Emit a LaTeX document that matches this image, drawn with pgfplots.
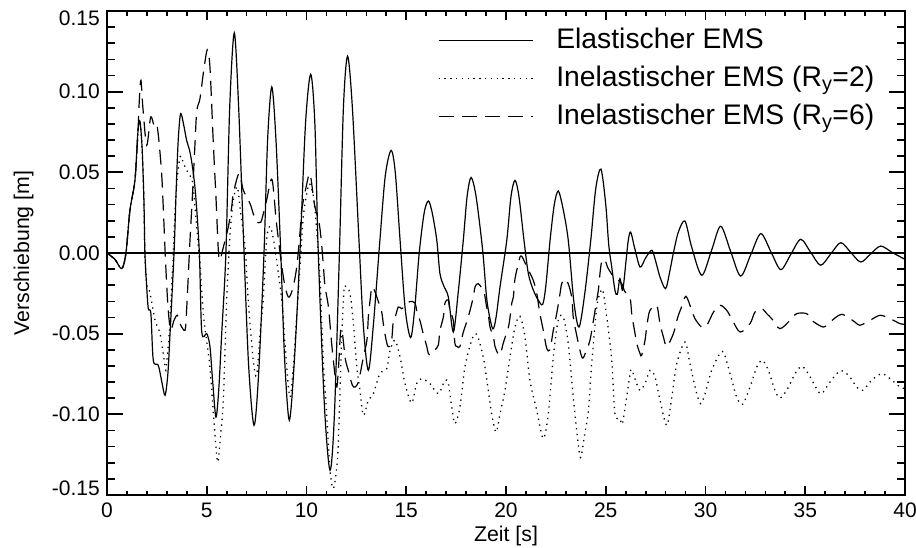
\documentclass[border=0pt]{standalone}
\usepackage{pgfplots}
\pgfplotsset{compat=1.18}
\usepackage{fontspec}
\setmainfont{Liberation Sans}
\begin{document}
\begin{tikzpicture}
\useasboundingbox (-107pt,-52pt) rectangle (809pt,495pt);
\begin{axis}[
  scale only axis, width=798pt, height=484pt,
  xmin=0, xmax=40, ymin=-0.15, ymax=0.15,
  axis line style={line width=2pt},
  tick align=inside,
  xtick=\empty,
  ytick={-0.1,-0.05,0,0.05,0.1},
  yticklabels={-0.10,-0.05,0.00,0.05,0.10},
  minor ytick={-0.14,-0.13,-0.12,-0.11,-0.09,-0.08,-0.07,-0.06,-0.04,-0.03,-0.02,-0.01,0.01,0.02,0.03,0.04,0.06,0.07,0.08,0.09,0.11,0.12,0.13,0.14},
  extra y ticks={0.15}, extra y tick labels={0.15},
  extra y tick style={yticklabel style={yshift=-7pt}},
  major tick length=16pt, minor tick length=8pt,
  ytick pos=both,
  every tick/.style={black, line width=1.7pt},
  yticklabel style={anchor=east, inner sep=0pt, xshift=-7pt, font=\fontsize{21}{25}\selectfont},
  legend style={draw=none, fill=none, at={(0.4148,0.967)}, anchor=north west, inner sep=0pt, outer sep=0pt, row sep=11pt, column sep=23pt, font=\fontsize{28.3}{32}\selectfont, nodes={inner sep=0pt, text height=22pt, text depth=5pt}},
  legend cell align=left,
  legend image code/.code={\draw[#1] (0pt,0pt) -- (94pt,0pt);},
]
\addplot[black, line width=2pt, forget plot] coordinates {(0,0) (40,0)};
% Elastic
\addplot[black, line width=1.2pt, smooth, tension=0.5] coordinates {
(0,0) (0.4,-0.004) (0.74,-0.0097) (0.95,0) (1.15,0.0265) (1.40,0.045) (1.55,0.075) (1.65,0.0818) (1.76,0.065) (1.85,0.0327) (1.90,0) (1.99,-0.021) (2.07,-0.0345) (2.20,-0.0376) (2.32,-0.0665) (2.57,-0.0696) (2.75,-0.08) (2.91,-0.0882) (3.05,-0.075) (3.16,-0.050) (3.36,0) (3.47,0.04) (3.57,0.07) (3.69,0.0864) (3.85,0.079) (3.99,0.0699) (4.15,0.063) (4.3,0.052) (4.45,0.035) (4.63,0) (4.75,-0.049) (5.0,-0.050) (5.16,-0.058) (5.3,-0.08) (5.46,-0.1017) (5.6,-0.085) (5.75,-0.05) (5.96,0) (6.15,0.09) (6.38,0.1364) (6.6,0.09) (6.87,0) (7.1,-0.07) (7.37,-0.1068) (7.6,-0.075) (7.87,0) (8.05,0.07) (8.26,0.1029) (8.47,0.07) (8.71,0) (8.9,-0.065) (9.14,-0.1037) (9.4,-0.065) (9.67,0) (9.95,0.08) (10.21,0.1108) (10.42,0.08) (10.59,0) (10.9,-0.095) (11.18,-0.1347) (11.4,-0.10) (11.65,0) (11.85,0.09) (12.06,0.122) (12.3,0.09) (12.63,0.008) (12.85,-0.045) (13.10,-0.0727) (13.35,-0.045) (13.68,0.008) (13.95,0.048) (14.24,0.0636) (14.45,0.05) (14.69,0.008) (14.95,-0.035) (15.22,-0.0524) (15.42,-0.035) (15.65,0) (15.9,0.025) (16.11,0.0322) (16.3,0.025) (16.53,0.008) (16.69,-0.0128) (16.9,-0.021) (17.11,-0.0273) (17.36,-0.049) (17.6,-0.025) (17.86,0.008) (18.05,0.035) (18.25,0.0468) (18.5,0.035) (18.83,0.0017) (19.05,-0.03) (19.33,-0.0469) (19.5,-0.04) (19.70,-0.021) (20.04,0.008) (20.25,0.035) (20.45,0.045) (20.65,0.035) (20.90,0.008) (21.12,-0.0128) (21.37,-0.023) (21.62,-0.0293) (21.84,-0.0318) (22.0,-0.02) (22.21,0.008) (22.42,0.03) (22.62,0.0384) (22.85,0.028) (23.12,0.008) (23.4,-0.03) (23.66,-0.0459) (23.95,-0.025) (24.25,0.008) (24.5,0.04) (24.76,0.052) (25.0,0.03) (25.15,0.005) (25.3,-0.0087) (25.46,-0.023) (25.58,-0.0256) (25.71,-0.0159) (25.85,-0.023) (26.02,-0.0045) (26.13,0.008) (26.25,0.013) (26.45,0.003) (26.72,-0.0087) (27.0,-0.003) (27.31,0.0017) (27.5,-0.005) (27.72,-0.0149) (28.0,-0.0221) (28.2,-0.012) (28.39,0) (28.64,0.013) (28.97,0.0198) (29.3,0.004) (29.81,-0.0138) (30.3,0.0015) (30.76,0.0166) (31.26,0.001) (31.76,-0.0143) (32.27,-0.001) (32.77,0.012) (33.27,0.001) (33.77,-0.0103) (34.27,-0.001) (34.77,0.0085) (35.27,0.0005) (35.77,-0.0076) (36.28,-0.0005) (36.78,0.0064) (37.28,0.0004) (37.78,-0.0056) (38.28,-0.0006) (38.78,0.0043) (39.4,0.0) (40,-0.0039)
};
\addlegendentry{Elastischer EMS}
% Inelastic Ry=2
\addplot[black, line width=1.3pt, dash pattern=on 1.3pt off 4.5pt, smooth, tension=0.5] coordinates {
(0,0) (0.4,-0.004) (0.74,-0.0097) (0.95,0) (1.15,0.0265) (1.40,0.045) (1.55,0.075) (1.65,0.0818) (1.76,0.065) (1.85,0.0327) (1.90,0) (1.99,-0.019) (2.05,-0.021) (2.16,-0.025) (2.41,-0.0417) (2.66,-0.050) (2.85,-0.065) (2.95,-0.0727) (3.05,-0.06) (3.12,-0.05) (3.29,-0.0087) (3.45,0.035) (3.66,0.0595) (3.85,0.055) (4.05,0.05) (4.3,0.043) (4.5,0.015) (4.66,-0.0066) (4.83,-0.0376) (5.0,-0.055) (5.16,-0.0707) (5.41,-0.112) (5.55,-0.1296) (5.68,-0.115) (5.83,-0.0913) (6.0,-0.0293) (6.17,0.012) (6.33,0.0327) (6.53,0.041) (6.7,0.025) (6.92,0.0037) (7.08,-0.0293) (7.33,-0.0665) (7.5,-0.0758) (7.67,-0.05) (7.83,-0.0293) (8.0,0.008) (8.17,0.0165) (8.35,0.008) (8.5,-0.0045) (8.76,-0.0293) (9.01,-0.0707) (9.17,-0.0893) (9.34,-0.0707) (9.67,-0.0087) (9.84,0.0223) (10.0,0.036) (10.15,0.043) (10.35,0.035) (10.51,0.014) (10.68,-0.017) (10.84,-0.0665) (11.0,-0.0975) (11.18,-0.1347) (11.35,-0.146) (11.55,-0.1285) (11.65,-0.0975) (11.71,-0.0727) (11.76,-0.054) (11.88,-0.023) (11.98,-0.021) (12.18,-0.025) (12.35,-0.0438) (12.52,-0.0707) (12.68,-0.0851) (12.85,-0.1006) (13.10,-0.0913) (13.35,-0.0872) (13.68,-0.0748) (14.02,-0.0717) (14.19,-0.0603) (14.44,-0.0541) (14.69,-0.0645) (14.94,-0.081) (15.27,-0.093) (15.52,-0.081) (15.77,-0.0779) (16.19,-0.081) (16.61,-0.0872) (16.94,-0.0789) (17.11,-0.081) (17.28,-0.0955) (17.44,-0.1058) (17.69,-0.0955) (17.94,-0.0707) (18.28,-0.0541) (18.53,-0.0504) (18.86,-0.0645) (19.11,-0.0851) (19.28,-0.0996) (19.50,-0.111) (19.70,-0.0996) (19.95,-0.0851) (20.2,-0.0645) (20.45,-0.0459) (20.70,-0.0392) (20.95,-0.052) (21.2,-0.0789) (21.54,-0.0975) (21.87,-0.115) (22.12,-0.0996) (22.37,-0.0645) (22.62,-0.0417) (22.87,-0.0397) (23.12,-0.0562) (23.37,-0.0893) (23.58,-0.114) (23.74,-0.1268) (23.95,-0.112) (24.13,-0.0975) (24.3,-0.068) (24.55,-0.0335) (24.71,-0.0252) (24.85,-0.0231) (25.05,-0.0397) (25.3,-0.0665) (25.46,-0.0996) (25.71,-0.1027) (25.83,-0.1058) (26.05,-0.0893) (26.22,-0.0748) (26.3,-0.0723) (26.55,-0.081) (26.72,-0.0851) (26.97,-0.081) (27.22,-0.0727) (27.47,-0.0769) (27.72,-0.0913) (28.06,-0.1068) (28.31,-0.0893) (28.56,-0.0686) (28.97,-0.0552) (29.22,-0.0686) (29.56,-0.0872) (29.76,-0.0934) (29.98,-0.0872) (30.31,-0.0727) (30.85,-0.061) (31.23,-0.0748) (31.56,-0.0893) (31.86,-0.0938) (32.23,-0.0831) (32.57,-0.0707) (32.85,-0.0665) (33.15,-0.0727) (33.48,-0.0851) (33.73,-0.0899) (34.07,-0.0851) (34.49,-0.0748) (34.82,-0.0702) (35.15,-0.0748) (35.57,-0.0841) (35.82,-0.0872) (36.24,-0.08) (36.66,-0.0738) (36.91,-0.0732) (37.24,-0.0769) (37.58,-0.0831) (37.88,-0.0851) (38.33,-0.0789) (38.83,-0.0748) (39.25,-0.0779) (39.75,-0.0831) (40,-0.0839)
};
\addlegendentry{Inelastischer EMS (R\textsubscript{y}=2)}
% Inelastic Ry=6
\addplot[black, line width=1.2pt, dash pattern=on 15pt off 8pt, smooth, tension=0.5] coordinates {
(0,0) (0.4,-0.004) (0.74,-0.0097) (0.95,0) (1.15,0.0265) (1.40,0.045) (1.55,0.075) (1.62,0.0947) (1.70,0.107) (1.8,0.09) (1.99,0.0668) (2.19,0.0843) (2.36,0.079) (2.49,0.080) (2.6,0.07) (2.74,0.049) (2.82,0.0285) (2.91,0.0017) (2.99,-0.019) (3.07,-0.0355) (3.19,-0.0479) (3.35,-0.042) (3.52,-0.0386) (3.66,-0.0438) (3.91,-0.0479) (3.99,-0.0355) (4.08,-0.0128) (4.16,0.008) (4.28,0.035) (4.4,0.065) (4.5,0.088) (4.66,0.0957) (4.86,0.1143) (5.03,0.126) (5.16,0.1153) (5.33,0.0678) (5.46,0.035) (5.58,0.0017) (5.66,-0.0045) (5.8,0.002) (6.08,0.0161) (6.25,0.0285) (6.33,0.0368) (6.62,0.0494) (6.83,0.039) (7.17,0.0306) (7.33,0.0244) (7.5,0.0192) (7.67,0.019) (7.75,0.0203) (8.0,0.0327) (8.27,0.0456) (8.5,0.018) (8.84,-0.0149) (9.09,-0.0273) (9.31,-0.022) (9.51,-0.0087) (9.67,0.012) (9.76,0.0265) (10.0,0.042) (10.18,0.049) (10.4,0.03) (10.64,0.018) (10.76,0.005) (10.85,-0.0087) (10.93,-0.021) (11.1,-0.0335) (11.26,-0.056) (11.43,-0.076) (11.52,-0.083) (11.6,-0.072) (11.7,-0.05) (11.77,-0.047) (11.85,-0.055) (11.95,-0.066) (12.1,-0.073) (12.3,-0.082) (12.45,-0.083) (12.62,-0.079) (12.85,-0.0645) (13.03,-0.054) (13.1,-0.0397) (13.18,-0.03) (13.28,-0.021) (13.4,-0.023) (13.6,-0.030) (13.77,-0.0366) (13.85,-0.0438) (13.93,-0.05) (14.05,-0.057) (14.15,-0.058) (14.27,-0.054) (14.35,-0.042) (14.44,-0.04) (14.6,-0.0335) (14.77,-0.0345) (14.95,-0.033) (15.19,-0.030) (15.44,-0.031) (15.52,-0.0355) (15.69,-0.042) (15.77,-0.046) (15.85,-0.05) (16.03,-0.058) (16.11,-0.0624) (16.25,-0.063) (16.44,-0.060) (16.61,-0.057) (16.69,-0.048) (16.86,-0.0397) (16.94,-0.031) (17.1,-0.029) (17.19,-0.0355) (17.36,-0.042) (17.44,-0.056) (17.55,-0.058) (17.69,-0.058) (17.86,-0.049) (18.03,-0.0428) (18.2,-0.0355) (18.36,-0.0273) (18.45,-0.021) (18.6,-0.019) (18.86,-0.023) (18.95,-0.0273) (19.03,-0.0335) (19.11,-0.0376) (19.2,-0.046) (19.37,-0.052) (19.45,-0.058) (19.6,-0.0624) (19.72,-0.063) (19.86,-0.056) (20.12,-0.046) (20.2,-0.04) (20.29,-0.031) (20.37,-0.0273) (20.45,-0.016) (20.62,-0.0066) (20.7,-0.0025) (20.79,-0.002) (20.95,-0.006) (21.1,-0.01) (21.37,-0.017) (21.54,-0.025) (21.7,-0.0376) (21.87,-0.048) (22.04,-0.059) (22.2,-0.060) (22.37,-0.048) (22.54,-0.0376) (22.71,-0.025) (22.79,-0.019) (22.95,-0.016) (23.12,-0.019) (23.29,-0.0273) (23.37,-0.0397) (23.46,-0.046) (23.8,-0.0645) (24.0,-0.0614) (24.21,-0.054) (24.38,-0.042) (24.55,-0.029) (24.63,-0.023) (24.71,-0.0128) (24.8,-0.005) (24.95,-0.004) (25.1,-0.009) (25.35,-0.014) (25.55,-0.016) (25.8,-0.019) (25.96,-0.024) (26.22,-0.028) (26.3,-0.0376) (26.38,-0.0438) (26.47,-0.05) (26.55,-0.056) (26.72,-0.0624) (26.8,-0.0634) (26.97,-0.054) (27.05,-0.046) (27.13,-0.0397) (27.22,-0.0355) (27.55,-0.0324) (27.72,-0.0438) (27.89,-0.052) (28.06,-0.058) (28.39,-0.05) (28.56,-0.042) (28.64,-0.0386) (28.8,-0.0335) (29.02,-0.0268) (29.31,-0.0355) (29.47,-0.0407) (29.81,-0.046) (30.06,-0.045) (30.4,-0.0366) (30.73,-0.0324) (31.06,-0.0355) (31.31,-0.0407) (31.73,-0.049) (32.23,-0.0438) (32.48,-0.0366) (32.82,-0.0345) (33.07,-0.0376) (33.32,-0.0407) (33.73,-0.0469) (34.24,-0.0417) (34.57,-0.0376) (35.07,-0.0376) (35.32,-0.0417) (35.9,-0.0459) (36.24,-0.0428) (36.83,-0.038) (37.49,-0.0428) (37.74,-0.0448) (38.25,-0.0417) (38.75,-0.0386) (39.25,-0.0407) (39.75,-0.0438) (40,-0.0442)
};
\addlegendentry{Inelastischer EMS (R\textsubscript{y}=6)}
\end{axis}
\begin{axis}[
  scale only axis, width=798pt, height=484pt,
  xmin=0, xmax=40, ymin=-0.15, ymax=0.15,
  axis line style={line width=2pt},
  tick align=inside,
  xtick={0,5,...,40},
  xticklabels={0,5,10,15,20,25,30,35,40},
  minor xtick={1,2,3,4,6,7,8,9,11,12,13,14,16,17,18,19,21,22,23,24,26,27,28,29,31,32,33,34,36,37,38,39},
  xtick pos=both,
  ytick=\empty,
  extra y ticks={-0.15}, extra y tick labels={-0.15},
  extra y tick style={yticklabel style={yshift=7pt}},
  major tick length=9pt, minor tick length=4.5pt,
  every tick/.style={black, line width=1.7pt},
  xticklabel style={anchor=north, inner sep=0pt, yshift=-8pt, font=\fontsize{21}{25}\selectfont},
  yticklabel style={anchor=east, inner sep=0pt, xshift=-7pt, font=\fontsize{21}{25}\selectfont},
  xlabel={Zeit [s]},
  ylabel={Verschiebung [m]},
  xlabel style={at={(axis description cs:0.5,-0.096)}, anchor=base, font=\fontsize{21.3}{25}\selectfont},
  ylabel style={at={(axis description cs:-0.0977,0.5)}, anchor=base, font=\fontsize{21.3}{25}\selectfont},
]
\end{axis}
\end{tikzpicture}
\end{document}
